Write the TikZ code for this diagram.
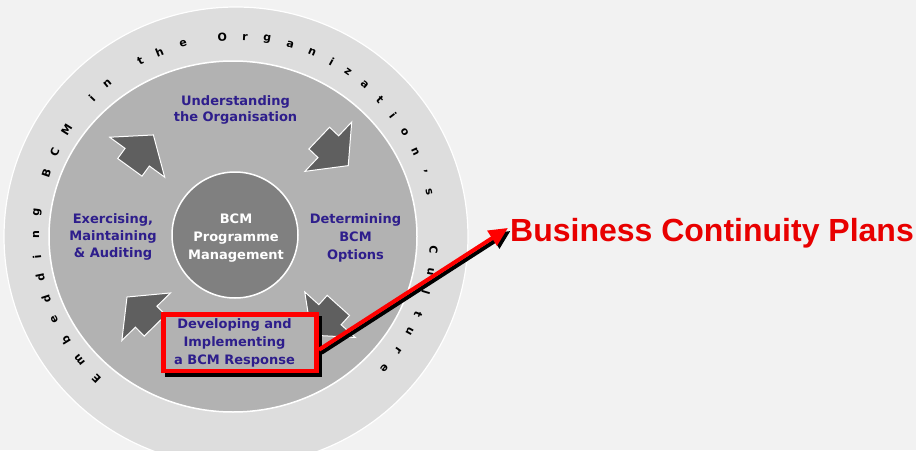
\documentclass[tikz,border=0pt]{standalone}
\usepackage{fontspec}
\setmainfont{DejaVu Sans}
\newfontfamily\arialfont{Liberation Sans}
\usetikzlibrary{arrows.meta}
\definecolor{bg}{HTML}{F2F2F2}
\definecolor{ringgray}{HTML}{DDDDDD}
\definecolor{midgray}{HTML}{B2B2B2}
\definecolor{hubgray}{HTML}{808080}
\definecolor{arrowgray}{HTML}{5F5F5F}
\definecolor{stageblue}{RGB}{46,30,140}
\definecolor{bcpred}{RGB}{232,0,0}
\definecolor{boxred}{RGB}{255,0,0}
\begin{document}
\begin{tikzpicture}[x=1pt,y=-1pt,
  stage/.style={font=\fontsize{13}{17}\selectfont\bfseries, text=stageblue, align=center, inner sep=0pt},
  hubtext/.style={font=\fontsize{13}{18}\selectfont\bfseries, text=white, align=center, inner sep=0pt},
  ringletter/.style={font=\fontsize{11}{11}\selectfont\bfseries, text=black, inner sep=0pt},
  cyclearrow/.pic={\draw[fill=arrowgray, draw=white, line width=1pt, line join=miter]
     (-12.5,-15) -- (0,-15) -- (0,-34) -- (27.5,0) -- (0,34) -- (0,15) -- (-12.5,15) -- cycle;},
  boxframe/.style={line width=4.5pt, minimum width=153.4pt, minimum height=56.1pt, inner sep=0pt},
  redarrow/.style={line width=4pt, -{Triangle[length=19pt,width=17pt]}}
]
\useasboundingbox (0,0) rectangle (916,450);
\clip (0,0) rectangle (916,450);
\fill[bg] (0,0) rectangle (916,450);
\coordinate (c) at (235,236);
% rings
\draw[fill=ringgray, draw=white, line width=1.2pt] (236,236.5) ellipse [x radius=232pt, y radius=229.5pt];
\draw[fill=midgray, draw=white, line width=1.5pt] (233,236.5) ellipse [x radius=184pt, y radius=175.5pt];
\draw[fill=hubgray, draw=white, line width=1.5pt] (235,235) circle [radius=63pt];
% ring text
\foreach \a/\ch [count=\i] in {225.8/E,218.7/m,211.7/b,204.8/e,198.4/d,192.0/d,186.0/i,179.7/n,173.3/g,
  161.5/B,155.0/C,147.8/M,136.0/i,129.9/n,118.4/t,112.3/h,105.1/e,
  93.7/O,87.1/r,80.7/g,73.9/a,67.2/n,60.9/i,55.4/z,49.3/a,43.2/t,37.4/i,31.5/o,25.0/n,18.6/',12.8/s,
  -4.0/C,-10.5/u,-16.5/l,-23.1/t,-28.7/u,-35.0/r,-41.5/e}
  \node[ringletter, rotate={\a-90}] (ring\i) at ([shift={(\a:199pt)}]c) {\ch};
% cycle arrows
\pic[rotate=54] at (137.2,157.2) {cyclearrow};
\pic[rotate=-43.5] at (328.3,146.7) {cyclearrow};
\pic[rotate=-132] at (330,314.7) {cyclearrow};
\pic[rotate=134.3] at (146.2,316.7) {cyclearrow};
% stage texts
\node[stage, font=\fontsize{13}{16}\selectfont\bfseries] (understand) at (235.5,109.6) {Understanding\\the Organisation};
\node[stage] (exercise) at (113,237) {Exercising,\\Maintaining\\\& Auditing};
\node[stage, font=\fontsize{13}{18}\selectfont\bfseries] (determine) at (355.5,238) {Determining\\BCM\\Options};
\node[hubtext] (hub) at (236,238.5) {BCM\\Programme\\Management};
% developing box
\node[boxframe, draw=black] (devshadow) at (243.5,346.2) {};
\node[boxframe, draw=boxred, fill=midgray] (devbox) at (240,342.75) {};
\node[stage, font=\fontsize{13}{17.8}\selectfont\bfseries] (develop) at (234.5,343) {Developing and\\Implementing\\a BCM Response};
% business continuity plans
\node[font=\arialfont\bfseries\fontsize{32}{38}\selectfont, text=bcpred, anchor=base west, inner sep=0pt] (bcp) at (510,241.7) {Business Continuity Plans};
\draw[redarrow, black] ([shift={(2.5,10)}]devbox.east) -- ([shift={(0.5,-2.5)}]bcp.west);
\draw[redarrow, boxred] ([shift={(0,7)}]devbox.east) -- ([shift={(-2,-5.5)}]bcp.west);
\end{tikzpicture}
\end{document}
